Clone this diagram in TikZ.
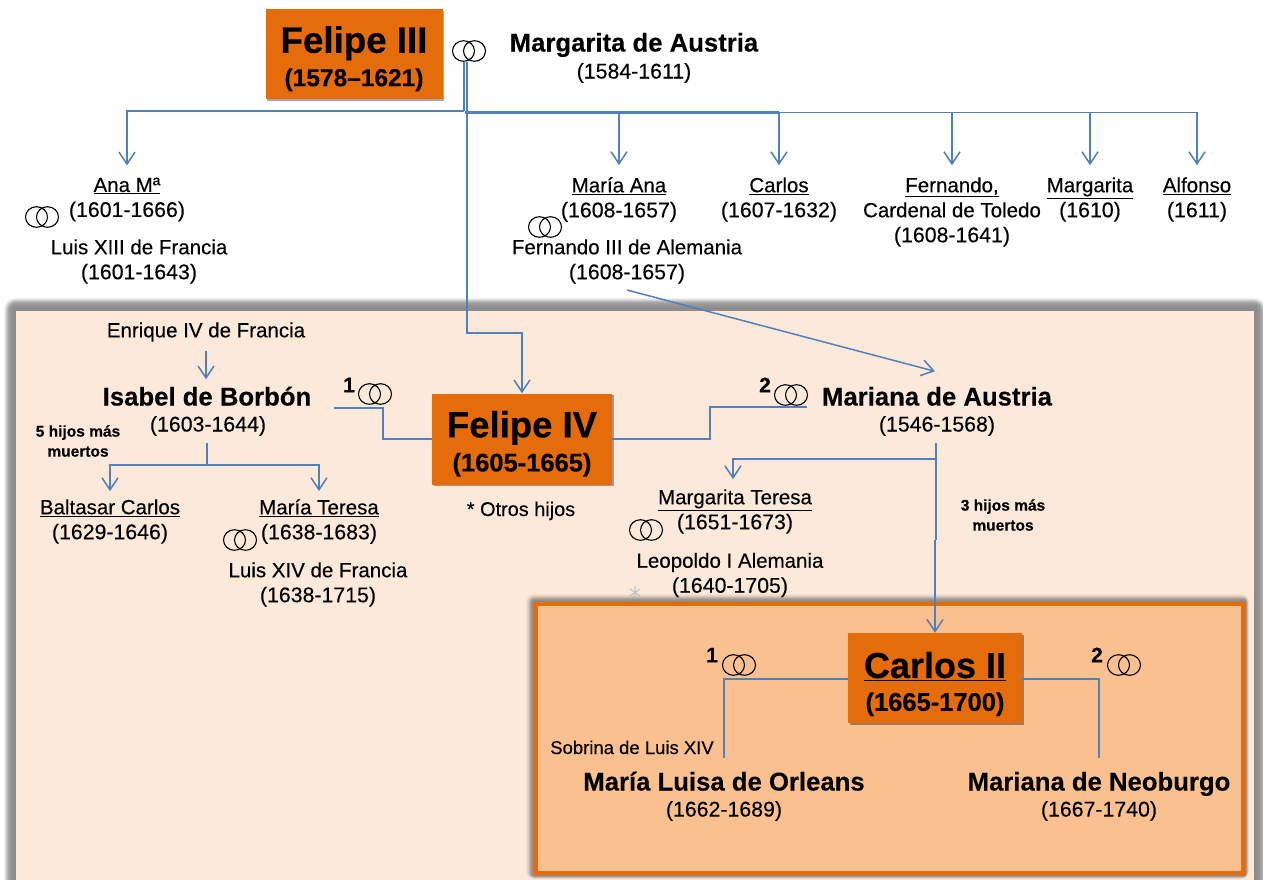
\documentclass[tikz,border=0pt]{standalone}
\usepackage{fontspec}
\setmainfont{Liberation Sans}
\newfontfamily\regf[FakeBold=0.25]{Liberation Sans}
\newfontfamily\heavyf[FakeBold=0.3]{Liberation Sans Bold}
\usetikzlibrary{arrows.meta,shadows,calc}
\definecolor{lineblue}{HTML}{4F81BD}
\definecolor{boxorange}{HTML}{E46C0A}
\definecolor{panelpeach}{HTML}{FDE9D9}
\definecolor{innerpeach}{HTML}{FAC090}
\newcommand\fsz[2]{\fontsize{#1}{#2}\selectfont}
\newcommand\yrs[1]{{\fsz{21.3}{25}#1}}
\tikzset{
  lab/.style={inner sep=0pt,align=center,text=black,yshift=-2pt,font=\regf\fsz{20.5}{25}},
  small/.style={inner sep=0pt,align=center,text=black,yshift=-2pt,text height=14pt,text depth=4pt,font=\regf\fsz{18.5}{22}},
  tiny/.style={inner sep=0pt,align=center,text=black,font=\heavyf\fsz{15.5}{20}},
  big/.style={inner sep=0pt,text=black,yshift=-2pt,text height=18pt,text depth=5pt,font=\heavyf\fsz{25.7}{27}},
  num/.style={inner sep=0pt,text=black,font=\heavyf\fsz{21}{25}},
  royal/.style={fill=boxorange,inner sep=0pt,align=center,text=black,
    drop shadow={shadow xshift=1.5pt,shadow yshift=-1.5pt,opacity=.35,fill=black}},
  ringbox/.style={inner sep=0pt,minimum width=33pt,minimum height=21pt},
  ringline/.style={draw=black,line width=1.1pt},
  conn/.style={draw=lineblue,line width=1.5pt},
  arr/.style={conn,-{Straight Barb[length=12pt,width=16pt,line width=1.5pt]}},
}
\newcommand\ringsat[3]{%
  \node[ringbox] (#1) at (#2,#3) {};
  \draw[ringline] ([xshift=-5.5pt]#1.center) ellipse[x radius=11,y radius=10.3]
                  ([xshift=5.5pt]#1.center) ellipse[x radius=11,y radius=10.3];}
\begin{document}
\begin{tikzpicture}[x=1pt,y=-1pt,line join=miter]
\useasboundingbox (0,0) rectangle (1263,879);
\fill[white] (0,0) rectangle (1263,879);
% outer panel with soft shadow
\foreach \d/\g in {12/6,11/12,10/20,9/28,8/34,7/38,6/40,5/42,4/43,3/44,2/45,1/45}{
  \fill[black!\g!white,rounded corners=\d pt] (16-\d,310-\d) rectangle (1254+\d,890);
}
\fill[panelpeach] (16,311) rectangle (1254,890);
% inner panel with soft shadow
\foreach \d/\g in {8/4,7/8,6/14,5/22,4/30,3/36,2/40,1/42}{
  \fill[black!\g!panelpeach,rounded corners=\d pt] (534-\d,602-\d) rectangle (1245+0.5*\d,875+0.5*\d);
}
\draw[draw=boxorange,fill=innerpeach,line width=4pt] (536,604) rectangle (1243,873);

% royal boxes
\node[royal,minimum width=177pt,minimum height=90pt] (felipe3) at (354,54)
  {\rule{0pt}{36pt}{\heavyf\fsz{36.7}{40}Felipe III}\\[7pt]{\heavyf\fsz{24.5}{27}(1578–1621)}};
\node[royal,minimum width=180pt,minimum height=91pt] (felipe4) at (522,439)
  {\rule{0pt}{36pt}{\heavyf\fsz{36.5}{40}Felipe IV}\\[7pt]{\heavyf\fsz{25.5}{27}(1605-1665)}};
\node[royal,minimum width=174pt,minimum height=90pt] (carlos2) at (935,678)
  {\rule{0pt}{38pt}{\heavyf\fsz{36}{40}\underline{Carlos II}}\\[11pt]{\heavyf\fsz{25.5}{27}(1665-1700)}};

% top generation
\node[big] (margarita) at (634,43) {Margarita de Austria};
\node[lab] (margaritad) at (634,71) {\yrs{(1584-1611)}};
\ringsat{r3}{469}{51}
\node[lab] (ana) at (127,197.5) {\underline{Ana Mª}\\\yrs{(1601-1666)}};
\ringsat{rana}{42}{217}
\node[lab] (luis13) at (139,259.5) {Luis XIII de Francia\\\yrs{(1601-1643)}};
\node[lab] (mana) at (619,197.5) {\underline{María Ana}\\\yrs{(1608-1657)}};
\ringsat{rmana}{545}{227}
\node[lab] (fer3) at (627,259.5) {Fernando III de Alemania\\\yrs{(1608-1657)}};
\node[lab] (carlos) at (779,197.5) {\underline{Carlos}\\\yrs{(1607-1632)}};
\node[lab] (fernando) at (952,210) {\underline{Fernando,}\\Cardenal de Toledo\\\yrs{(1608-1641)}};
\node[lab] (margita) at (1090,197.5) {\underline{Margarita}\\\yrs{(1610)}};
\node[lab] (alfonso) at (1197,197.5) {\underline{Alfonso}\\\yrs{(1611)}};

% Felipe IV generation
\node[lab] (enrique) at (206,330) {Enrique IV de Francia};
\node[big] (isabel) at (207,397) {Isabel de Borbón};
\node[lab] (isabeld) at (208,424) {\yrs{(1603-1644)}};
\node[tiny] (cinco) at (78,441) {5 hijos más\\muertos};
\node[num] (n1a) at (349,385) {1};
\ringsat{r41}{375}{394}
\node[num] (n2a) at (765,385) {2};
\ringsat{r42}{791}{395}
\node[big] (mariana) at (937,397) {Mariana de Austria};
\node[lab] (marianad) at (937,424) {\yrs{(1546-1568)}};
\node[lab] (baltasar) at (110,519.5) {\underline{Baltasar Carlos}\\\yrs{(1629-1646)}};
\node[lab] (mteresa) at (319,519.5) {\underline{María Teresa}\\\yrs{(1638-1683)}};
\ringsat{rmt}{240}{540}
\node[lab] (luis14) at (318,582.5) {Luis XIV de Francia\\\yrs{(1638-1715)}};
\node[small,font=\regf\fsz{19.9}{22}] (otros) at (521,509) {* Otros hijos};
\node[lab] (mgteresa) at (735,509.5) {\underline{Margarita Teresa}\\\yrs{(1651-1673)}};
\ringsat{rmgt}{646}{530}
\node[lab] (leopoldo) at (730,573) {Leopoldo I Alemania\\\yrs{(1640-1705)}};
\node[tiny] (tres) at (1003,515) {3 hijos más\\muertos};

% Carlos II generation
\node[num] (n1b) at (712,655) {1};
\ringsat{r21}{739}{665}
\node[num] (n2b) at (1097,655) {2};
\ringsat{r22}{1124}{665}
\node[small] (sobrina) at (632,747) {Sobrina de Luis XIV};
\node[big] (mluisa) at (724,782) {María Luisa de Orleans};
\node[lab] (mluisad) at (724,809) {\yrs{(1662-1689)}};
\node[big] (mneo) at (1099,782) {Mariana de Neoburgo};
\node[lab] (mneod) at (1099,809) {\yrs{(1667-1740)}};

% named free ends
\coordinate (trunkA) at ([xshift=-5pt]r3.south);
\coordinate (trunkB) at ([xshift=-2pt]r3.south);
\coordinate (busL) at (464,111);
\coordinate (busR) at (465,112.5);
\coordinate (busM) at (779,112.5);
\coordinate (busF) at (522,333);
\coordinate (isaB) at (207,465);
\coordinate (marT) at (936,443);
\coordinate (marB) at (936,459);
\coordinate (marJ) at (935,540);
\coordinate (isaT) at (207,443);
\coordinate (ferS) at (627,290);
\coordinate (isaL) at (334,408);
\coordinate (marL) at (807,407);
\coordinate (jogL) at (383,439);
\coordinate (jogR) at (710,439);

% Felipe III children
\draw[conn] (trunkA) -- (busL);
\draw[arr] (busL) -| ($(ana.north)+(0,-12)$);
\draw[conn,line width=3pt] (busR) -- (busM);
\draw[arr] (busR) -| ($(mana.north)+(0,-12)$);
\draw[arr] (busM) -| ($(carlos.north)+(0,-12)$);
\draw[arr] (busM) -| ($(fernando.north)+(0,-12)$);
\draw[arr] (busM) -| ($(margita.north)+(0,-12)$);
\draw[arr] (busM) -| ($(alfonso.north)+(0,-12)$);
\draw[arr] (trunkB) |- (busF) -- (felipe4.north);
% Enrique -> Isabel
\draw[arr] ($(enrique.south)+(0,9)$) -- ($(enrique.south |- isabel.north)+(0,-8)$);
% Felipe IV marriages
\draw[conn] (isaL) -| (jogL) -- (felipe4.west);
\draw[conn] (felipe4.east) -- (jogR) |- (marL);
% Isabel's children
\draw[conn] (isaT) -- (isaB);
\draw[arr] (isaB) -| ($(baltasar.north)+(0,-8)$);
\draw[arr] (isaB) -| ($(mteresa.north)+(0,-8)$);
% Fernando III -> Mariana
\draw[arr] (ferS) -- ($(mariana.north)+(-2,-16)$);
% Mariana's children
\draw[conn] (marT) -- (marB);
\draw[arr] (marB) -| ($(mgteresa.north)+(-2,-10)$);
\draw[conn] (marB) -- (marB |- marJ);
\draw[arr] (marJ) -- (marJ |- carlos2.north);
% Carlos II marriages
\draw[conn] ([yshift=-1pt]carlos2.west) -| ($(mluisa.north)+(0,-14)$);
\draw[conn] ([yshift=-1pt]carlos2.east) -| ($(mneo.north)+(0,-14)$);

% small stray mark
\draw[black!25,line width=1pt] (635,586) -- (635,598) (630,589) -- (640,596) (630,596) -- (640,589);
\end{tikzpicture}
\end{document}
